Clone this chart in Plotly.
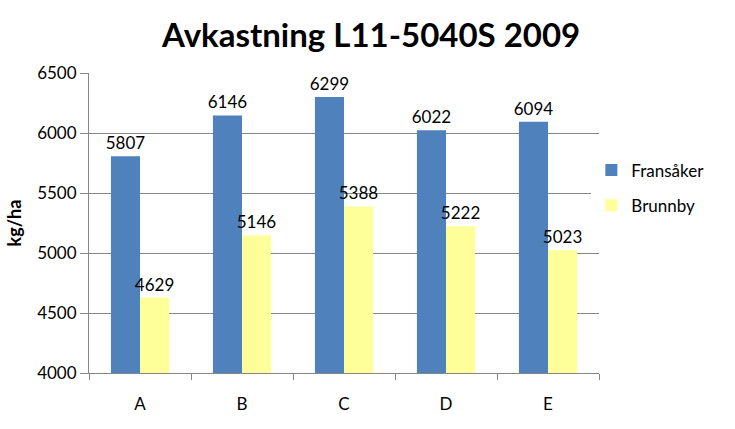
import plotly.graph_objects as go

categories = ["A", "B", "C", "D", "E"]
fransaker = [5807, 6146, 6299, 6022, 6094]
brunnby = [4629, 5146, 5388, 5222, 5023]

FONT = "Lato, 'Open Sans', sans-serif"

fig = go.Figure()
fig.add_trace(go.Bar(x=categories, y=fransaker, name="Fransåker", legendgroup="f",
                     marker_color="#4F81BD", text=fransaker,
                     textposition="outside", cliponaxis=False))
fig.add_trace(go.Bar(x=categories, y=brunnby, name="Brunnby", legendgroup="b",
                     marker_color="#FFFF99", text=brunnby,
                     textposition="outside", cliponaxis=False))
fig.update_traces(textfont=dict(size=17, color="black", family=FONT),
                  constraintext="none", marker_line_width=0)

fig.update_layout(
    width=735, height=429,
    margin=dict(l=89, r=136, t=73, b=56, autoexpand=False),
    plot_bgcolor="white", paper_bgcolor="white",
    font=dict(family=FONT, size=16, color="black"),
    title=dict(text="<b>Avkastning L11-5040S 2009</b>", x=0.505, xanchor="center",
               y=0.918, yanchor="middle", font=dict(size=33, color="black")),
    barmode="group", bargap=0.43, bargroupgap=0,
    legend=dict(x=0.985, y=0.735, xanchor="left", yanchor="top",
                font=dict(size=17), tracegroupgap=10, itemwidth=30),
    showlegend=True,
)
fig.update_yaxes(range=[4000, 6500], dtick=500, showgrid=True, gridcolor="#868686",
                 showline=True, linecolor="#868686", ticks="outside", tickcolor="#868686",
                 ticklen=8, tickfont=dict(size=17), automargin=False,
                 title=dict(text="<b>kg/ha</b>", font=dict(size=18), standoff=10))
fig.update_xaxes(showline=True, linecolor="#868686", ticks="outside", tickson="boundaries",
                 tickcolor="#868686", ticklen=6, tickfont=dict(size=17), automargin=False,
                 ticklabelstandoff=16)

# page body has a default 8px margin; drop it so the chart sits at 0,0
fig.write_html("out.html", config={"displayModeBar": False},
               post_script="document.body.style.margin='0';")
